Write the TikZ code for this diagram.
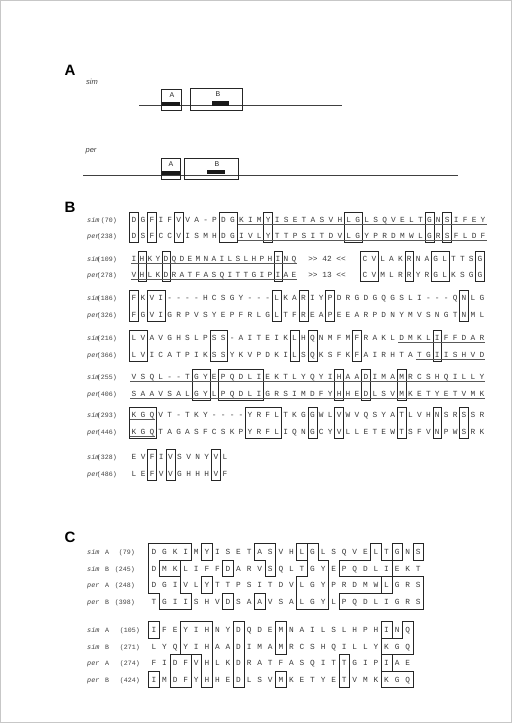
\documentclass[tikz,border=0pt]{standalone}
\usepackage{fontspec}
\setmainfont{Liberation Serif}
\newfontfamily\seqf{Liberation Mono}[Ligatures=TeXOff]
\newfontfamily\sansf{Liberation Sans}
\tikzset{
  seqB/.style={font=\seqf\fontsize{7.8}{8}\selectfont, text=black!78, inner sep=0pt, anchor=base},
  lab/.style={font=\seqf\fontsize{6.6}{7}\selectfont, text=black!75, inner sep=0pt},
  labit/.style={font=\seqf\itshape\fontsize{6.8}{7}\selectfont, text=black!75, inner sep=0pt},
  lbA/.style={font=\sansf\itshape\fontsize{7.5}{8}\selectfont, text=black!75, inner sep=0pt},
  boxlab/.style={font=\sansf\fontsize{7}{8}\selectfont, text=black!85, inner sep=0pt},
  panel/.style={font=\sansf\bfseries\fontsize{15}{15}\selectfont, inner sep=0pt},
  bl/.style={draw=black!85, line width=0.6pt},
  baseln/.style={draw=black!75, line width=0.7pt},
  ulst/.style={draw=black!65, line width=0.4pt},
}
% letters of one row: style, name, x0, step, y(center), list
\newcommand\seqrow[6]{\foreach \ch [count=\i from 0] in {#6} {\node[#1] (#2-\i) at ({#3+\i*#4},{#5+2.8}) {\ch};}}
% boxes over a pair of rows: x0, step, ysim, yper, list of c1/c2
\newcommand\bboxes[5]{\foreach \a/\b in {#5} {\draw[bl] ({#1+(\a-0.5)*#2},{#3-7.5}) rectangle ({#1+(\b+0.5)*#2},{#4+6.5});}}
% underline: x0, step, c1, c2, y
\newcommand\uline[5]{\draw[ulst] ({#1+(#3-0.4)*#2},{#5+4.6}) -- ({#1+(#4+0.4)*#2},{#5+4.6});}
% labels of panel B: name, y, species, number
\newcommand\blab[4]{\node[labit, anchor=base west] (#1n) at (87,{#2+2.6}) {#3};
  \node[lab, anchor=base east] (#1m) at (117,{#2+2.6}) {(#4)};}
% labels of panel C: name, y, species, letter, number, right x
\newcommand\clab[6]{\node[labit, anchor=base west] (#1n) at (87,{#2+2.6}) {#3};
  \node[lab, anchor=base west] (#1l) at (105,{#2+2.6}) {#4};
  \node[lab, anchor=base east] (#1m) at (#6,{#2+2.6}) {(#5)};}
\begin{document}
\begin{tikzpicture}[x=1pt,y=-1pt]
\path[use as bounding box] (0,0) rectangle (512,723);
\draw[black!22, line width=0.6pt] (0.5,0.5) rectangle (511.5,722.5);

% ---------------- Panel A
\node[panel] (pA) at (70,70) {A};
\node[lbA] (simlab) at (92,82) {sim};
\draw[baseln] (139,105) -- (342,105);
\draw[bl] (161,89) rectangle (181,110);
\draw[bl] (190,88) rectangle (242,110);
\fill[black!90] (162,102) rectangle (180,106);
\fill[black!90] (212,101) rectangle (229,106);
\node[boxlab] (sa) at (172,95) {A};
\node[boxlab] (sb) at (218,94) {B};

\node[lbA] (perlab) at (91,151) {per};
\draw[baseln] (83,175) -- (458,175);
\draw[bl] (161,158) rectangle (180,179);
\draw[bl] (184,158) rectangle (238,179);
\fill[black!90] (162,171) rectangle (180,175);
\fill[black!90] (207,170) rectangle (225,174);
\node[boxlab] (pa) at (171,164) {A};
\node[boxlab] (pb) at (217,164) {B};

% ---------------- Panel B
\node[panel] (pB) at (70,207) {B};

% row 1
\blab{b1s}{220}{sim}{70}
\blab{b1p}{236}{per}{238}
\seqrow{seqB}{b1s}{134}{8.95}{220}{D,G,F,I,F,V,V,A,-,P,D,G,K,I,M,Y,I,S,E,T,A,S,V,H,L,G,L,S,Q,V,E,L,T,G,N,S,I,F,E,Y}
\seqrow{seqB}{b1p}{134}{8.95}{236}{D,S,F,C,C,V,I,S,M,H,D,G,I,V,L,Y,T,T,P,S,I,T,D,V,L,G,Y,P,R,D,M,W,L,G,R,S,F,L,D,F}
\bboxes{134}{8.95}{220}{236}{0/0,2/2,5/5,10/11,15/15,24/25,33/33,35/35}
\uline{134}{8.95}{12}{39}{220}
\uline{134}{8.95}{12}{39}{236}

% row 2
\blab{b2s}{259}{sim}{109}
\blab{b2p}{275}{per}{278}
\seqrow{seqB}{b2s}{134}{8}{259}{I,H,K,Y,D,Q,D,E,M,N,A,I,L,S,L,H,P,H,I,N,Q}
\seqrow{seqB}{b2p}{134}{8}{275}{V,H,L,K,D,R,A,T,F,A,S,Q,I,T,T,G,I,P,I,A,E}
\node[seqB, anchor=base] (b2sg) at (327,261.8) {>> 42 <<};
\node[seqB, anchor=base] (b2pg) at (327,277.8) {>> 13 <<};
\seqrow{seqB}{b2s2}{365}{8.85}{259}{C,V,L,A,K,R,N,A,G,L,T,T,S,G}
\seqrow{seqB}{b2p2}{365}{8.85}{275}{C,V,M,L,R,R,Y,R,G,L,K,S,G,G}
\bboxes{134}{8}{259}{275}{1/1,4/4,18/18}
\bboxes{365}{8.85}{259}{275}{0/1,5/5,8/9,13/13}
\uline{134}{8}{0}{20}{259}
\uline{134}{8}{0}{20}{275}

% row 3
\blab{b3s}{298}{sim}{186}
\blab{b3p}{315}{per}{326}
\seqrow{seqB}{b3s}{134}{8.92}{298}{F,K,V,I,-,-,-,-,H,C,S,G,Y,-,-,-,L,K,A,R,I,Y,P,D,R,G,D,G,Q,G,S,L,I,-,-,-,Q,N,L,G}
\seqrow{seqB}{b3p}{134}{8.92}{315}{F,G,V,I,G,R,P,V,S,Y,E,P,F,R,L,G,L,T,F,R,E,A,P,E,E,A,R,P,D,N,Y,M,V,S,N,G,T,N,M,L}
\bboxes{134}{8.92}{298}{315}{0/0,2/3,16/16,19/19,22/22,37/37}

% row 4
\blab{b4s}{338}{sim}{216}
\blab{b4p}{355}{per}{366}
\seqrow{seqB}{b4s}{134}{8.92}{338}{L,V,A,V,G,H,S,L,P,S,S,-,A,I,T,E,I,K,L,H,Q,N,M,F,M,F,R,A,K,L,D,M,K,L,I,F,F,D,A,R}
\seqrow{seqB}{b4p}{134}{8.92}{355}{L,V,I,C,A,T,P,I,K,S,S,Y,K,V,P,D,K,I,L,S,Q,K,S,F,K,F,A,I,R,H,T,A,T,G,I,I,S,H,V,D}
\bboxes{134}{8.92}{338}{355}{0/1,9/10,18/18,20/20,25/25,34/34}
\uline{134}{8.92}{30}{39}{338}
\uline{134}{8.92}{32}{39}{355}

% row 5
\blab{b5s}{377}{sim}{255}
\blab{b5p}{394}{per}{406}
\seqrow{seqB}{b5s}{134}{8.92}{377}{V,S,Q,L,-,-,T,G,Y,E,P,Q,D,L,I,E,K,T,L,Y,Q,Y,I,H,A,A,D,I,M,A,M,R,C,S,H,Q,I,L,L,Y}
\seqrow{seqB}{b5p}{134}{8.92}{394}{S,A,A,V,S,A,L,G,Y,L,P,Q,D,L,I,G,R,S,I,M,D,F,Y,H,H,E,D,L,S,V,M,K,E,T,Y,E,T,V,M,K}
\bboxes{134}{8.92}{377}{394}{7/8,10/14,23/23,26/26,30/30}
\uline{134}{8.92}{0}{39}{377}
\uline{134}{8.92}{0}{39}{394}

% row 6
\blab{b6s}{415}{sim}{293}
\blab{b6p}{432}{per}{446}
\seqrow{seqB}{b6s}{134}{8.92}{415}{K,G,Q,V,T,-,T,K,Y,-,-,-,-,Y,R,F,L,T,K,G,G,W,L,V,W,V,Q,S,Y,A,T,L,V,H,N,S,R,S,S,R}
\seqrow{seqB}{b6p}{134}{8.92}{432}{K,G,Q,T,A,G,A,S,F,C,S,K,P,Y,R,F,L,I,Q,N,G,C,Y,V,L,L,E,T,E,W,T,S,F,V,N,P,W,S,R,K}
\bboxes{134}{8.92}{415}{432}{0/2,13/16,20/20,23/23,30/30,34/34,37/37}
\uline{134}{8.92}{0}{2}{415}
\uline{134}{8.92}{0}{2}{432}

% row 7
\blab{b7s}{457}{sim}{328}
\blab{b7p}{474}{per}{486}
\seqrow{seqB}{b7s}{134}{9.1}{457}{E,V,F,I,V,S,V,N,Y,V,L}
\seqrow{seqB}{b7p}{134}{9.1}{474}{L,E,F,V,V,G,H,H,H,V,F}
\bboxes{134}{9.1}{457}{474}{2/2,4/4,9/9}

% ---------------- Panel C
\node[panel] (pC) at (70,537) {C};

% block 1
\clab{c1a}{552}{sim}{A}{79}{135}
\clab{c1b}{568.5}{sim}{B}{245}{135}
\clab{c1c}{585}{per}{A}{248}{135}
\clab{c1d}{601.5}{per}{B}{398}{135}
\seqrow{seqB}{c1a}{154}{10.57}{552}{D,G,K,I,M,Y,I,S,E,T,A,S,V,H,L,G,L,S,Q,V,E,L,T,G,N,S}
\seqrow{seqB}{c1b}{154}{10.57}{568.5}{D,M,K,L,I,F,F,D,A,R,V,S,Q,L,T,G,Y,E,P,Q,D,L,I,E,K,T}
\seqrow{seqB}{c1c}{154}{10.57}{585}{D,G,I,V,L,Y,T,T,P,S,I,T,D,V,L,G,Y,P,R,D,M,W,L,G,R,S}
\seqrow{seqB}{c1d}{154}{10.57}{601.5}{T,G,I,I,S,H,V,D,S,A,A,V,S,A,L,G,Y,L,P,Q,D,L,I,G,R,S}
\begin{scope}[shift={(148.715,543.75)}, x=10.57pt, y=-16.5pt]
  \draw[bl] (0,0) -- (4,0) -- (4,1) -- (3,1) -- (3,3) -- (4,3) -- (4,4) -- (1,4) -- (1,3) -- (0,3) -- cycle;
  \draw[bl] (1,1) rectangle (3,2);
  \draw[bl] (5,0) rectangle (6,1);
  \draw[bl] (5,2) rectangle (6,3);
  \draw[bl] (7,1) rectangle (8,2);
  \draw[bl] (7,3) rectangle (8,4);
  \draw[bl] (10,0) -- (12,0) -- (12,2) -- (11,2) -- (11,1) -- (10,1) -- cycle;
  \draw[bl] (10,3) rectangle (11,4);
  \draw[bl] (14,0) -- (16,0) -- (16,1) -- (17,1) -- (17,4) -- (14,4) -- (14,2) -- (15,2) -- (15,1) -- (14,1) -- cycle;
  \draw[bl] (14,0) rectangle (15,1);
  \draw[bl] (21,0) -- (22,0) -- (22,1) -- (23,1) -- (23,2) -- (18,2) -- (18,1) -- (21,1) -- cycle;
  \draw[bl] (23,0) rectangle (24,1);
  \draw[bl] (25,0) rectangle (26,1);
  \draw[bl] (22,2) -- (26,2) -- (26,4) -- (18,4) -- (18,3) -- (22,3) -- cycle;
  \draw[bl] (22,2) rectangle (23,3);
\end{scope}

% block 2
\clab{c2a}{630}{sim}{A}{105}{140}
\clab{c2b}{646.5}{sim}{B}{271}{140}
\clab{c2c}{663}{per}{A}{274}{140}
\clab{c2d}{679.5}{per}{B}{424}{140}
\seqrow{seqB}{c2a}{154}{10.57}{630}{I,F,E,Y,I,H,N,Y,D,Q,D,E,M,N,A,I,L,S,L,H,P,H,I,N,Q}
\seqrow{seqB}{c2b}{154}{10.57}{646.5}{L,Y,Q,Y,I,H,A,A,D,I,M,A,M,R,C,S,H,Q,I,L,L,Y,K,G,Q}
\seqrow{seqB}{c2c}{154}{10.57}{663}{F,I,D,F,V,H,L,K,D,R,A,T,F,A,S,Q,I,T,T,G,I,P,I,A,E}
\seqrow{seqB}{c2d}{154}{10.57}{679.5}{I,M,D,F,Y,H,H,E,D,L,S,V,M,K,E,T,Y,E,T,V,M,K,K,G,Q}
\begin{scope}[shift={(148.715,621.75)}, x=10.57pt, y=-16.5pt]
  \draw[bl] (0,0) rectangle (1,1);
  \draw[bl] (0,3) rectangle (1,4);
  \draw[bl] (3,0) -- (6,0) -- (6,4) -- (5,4) -- (5,2) -- (3,2) -- cycle;
  \draw[bl] (2,2) rectangle (4,4);
  \draw[bl] (8,0) rectangle (9,4);
  \draw[bl] (12,0) rectangle (13,2);
  \draw[bl] (12,3) rectangle (13,4);
  \draw[bl] (18,2) rectangle (19,4);
  \draw[bl] (22,0) -- (23,0) -- (23,1) -- (24,1) -- (24,0) -- (25,0) -- (25,2) -- (22,2) -- cycle;
  \draw[bl] (22,1) -- (23,1);
  \draw[bl] (22,2) rectangle (23,3);
  \draw[bl] (22,3) rectangle (25,4);
\end{scope}
\end{tikzpicture}
\end{document}
